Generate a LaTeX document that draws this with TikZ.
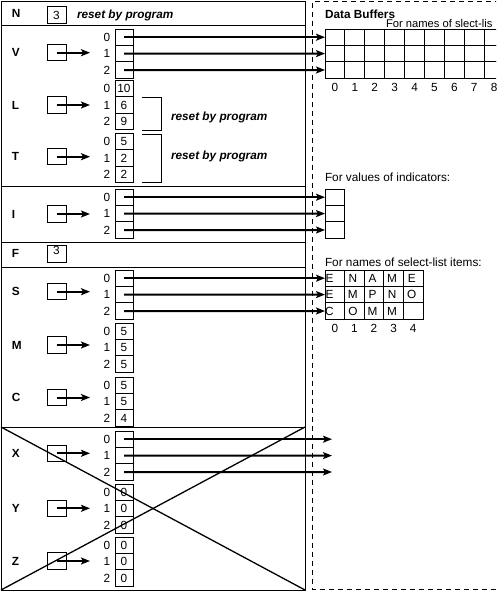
\documentclass[tikz,border=0pt]{standalone}
\usepackage{fontspec}
\setmainfont{Liberation Sans}
\usetikzlibrary{arrows.meta}
\newcommand\fsz{\fontsize{11.8}{14}\selectfont}
\tikzset{
  every node/.style={font=\fsz, inner sep=0pt, outer sep=0pt},
  box/.style={draw, line width=0.9pt},
  cell/.style={box, minimum width=18pt, minimum height=16.4pt},
  ptr/.style={box, minimum width=19pt, minimum height=16.4pt},
  lab/.style={anchor=west, font=\fsz\bfseries},
  note/.style={anchor=base west, font=\fsz\bfseries\itshape},
  plain/.style={anchor=base west},
  arr/.style={line width=2pt, -{Stealth[length=9pt,width=7pt,inset=2pt]}},
  frame/.style={line width=1pt},
  dframe/.style={line width=1pt, dash pattern=on 5pt off 4pt},
  bcell/.style={box, minimum width=19.9pt, minimum height=16.4pt},
  ncell/.style={box, minimum width=19.6pt, minimum height=16.4pt},
}
% #1 name, #2 top, #3 label, #4-#6 values, #7 pointer y
\newcommand\grp[7]{%
  \node[lab] (#1l) at (12,#7) {#3};
  \node[ptr] (#1p) at (56.5,#7) {};
  \coordinate (#1a) at (90,#7);
  \draw[arr] (#1p.center) -- (#1a);
  \node[cell] (#10) at (124,{#2+8.2}) {#4};
  \node[cell] (#11) at (124,{#2+24.6}) {#5};
  \node[cell] (#12) at (124,{#2+41}) {#6};
  \node (#1i0) at (107,{#2+8.2}) {0};
  \node (#1i1) at (107,{#2+24.6}) {1};
  \node (#1i2) at (107,{#2+41}) {2};
}
\begin{document}
\begin{tikzpicture}[x=1pt,y=-1pt]
\useasboundingbox (0,0) rectangle (496,616);
\clip (0,0) rectangle (496,616);
% left frame
\draw[frame] (1,1) rectangle (305,590);
\foreach \yy in {25,186.5,242,267,427}{\draw[frame] (1,\yy) -- (305,\yy);}
% right dashed frame
\draw[dframe] (500,1.5) -- (312,1.5) -- (312,589) -- (500,589);

% N row
\node[lab] (Nl) at (12,13.5) {N};
\node[ptr] (Nb) at (56.5,15) {3};
\node[note] (Nn) at (77,18) {reset by program};

% groups
\grp{V}{29}{V}{}{}{}{52.7}
\grp{L}{80.5}{L}{10}{6}{9}{105}
\grp{T}{133.5}{T}{5}{2}{2}{156.7}
\grp{I}{189}{I}{}{}{}{214}
\grp{S}{270}{S}{}{}{}{291.7}
\grp{M}{323}{M}{5}{5}{5}{345}
\grp{C}{377}{C}{5}{5}{4}{397.5}
\grp{X}{431}{X}{}{}{}{453.3}
\grp{Y}{484}{Y}{0}{0}{0}{508.3}
\grp{Z}{537}{Z}{0}{0}{0}{561}

% F row
\node[lab] (Fl) at (12,253.5) {F};
\node[ptr] (Fb) at (56.5,254) {};
\node (Fv) at (56.5,250) {3};

% brackets and notes
\draw[line width=0.9pt] (142,97.3) -- (161.5,97.3) -- (161.5,130) -- (142,130);
\draw[line width=0.9pt] (142,134.3) -- (161.5,134.3) -- (161.5,182.7) -- (142,182.7);
\node[note] (Ln) at (171,120) {reset by program};
\node[note] (Tn) at (171,159.5) {reset by program};

% Data buffers
\node[lab, anchor=base west] (DBh) at (325,18.5) {Data Buffers};
\node[plain, font=\fontsize{11.2}{13}\selectfont] (DBs) at (386,27.3) {For names of slect-lis};
\foreach \r in {0,1,2}{\foreach \c in {0,...,8}{
  \node[bcell] (B\r\c) at ({334.95+19.9*\c},{37.2+16.4*\r}) {};}}
\foreach \c in {0,...,8}{\node (Bn\c) at ({334.95+19.9*\c},87) {\c};}

% indicators
\node[plain] (INh) at (325,181) {For values of indicators:};
\foreach \r in {0,1,2}{\node[ptr] (D\r) at (334.5,{197.2+16.4*\r}) {};}

% names of select-list items
\node[plain] (NMh) at (325,266.5) {For names of select-list items:};
\foreach \r in {0,1,2}{\foreach \c in {0,...,4}{
  \node[ncell] (G\r\c) at ({334.8+19.6*\c},{278.2+16.4*\r}) {};}}
\foreach \r/\c/\ch in {0/1/N,0/2/A,0/3/M,0/4/E,1/1/M,1/2/P,1/3/N,1/4/O,2/1/O,2/2/M,2/3/M}{
  \node (g\r\c) at ({333.3+19.6*\c},{278.2+16.4*\r}) {\ch};}
\foreach \r/\ch in {0/E,1/E,2/C}{\node (g\r0) at (329.5,{278.2+16.4*\r}) {\ch};}
\foreach \c in {0,...,4}{\node (Gn\c) at ({334.8+19.6*\c},328) {\c};}

% long arrows
\foreach \r in {0,1,2}{
  \draw[arr] (V\r.center) -- (B\r0.west);
  \draw[arr] (I\r.center) -- (D\r.west);
  \draw[arr] (S\r.center) -- (G\r0.west);
  \coordinate (Xe\r) at (332,{439.2+16.4*\r});
  \draw[arr] (X\r.center) -- (Xe\r);
}

% cross
\coordinate (k1) at (1,427);
\coordinate (k2) at (305,590);
\coordinate (k3) at (1,590);
\coordinate (k4) at (305,427);
\draw[line width=1.3pt] (k1) -- (k2);
\draw[line width=1.3pt] (k3) -- (k4);
\end{tikzpicture}
\end{document}
